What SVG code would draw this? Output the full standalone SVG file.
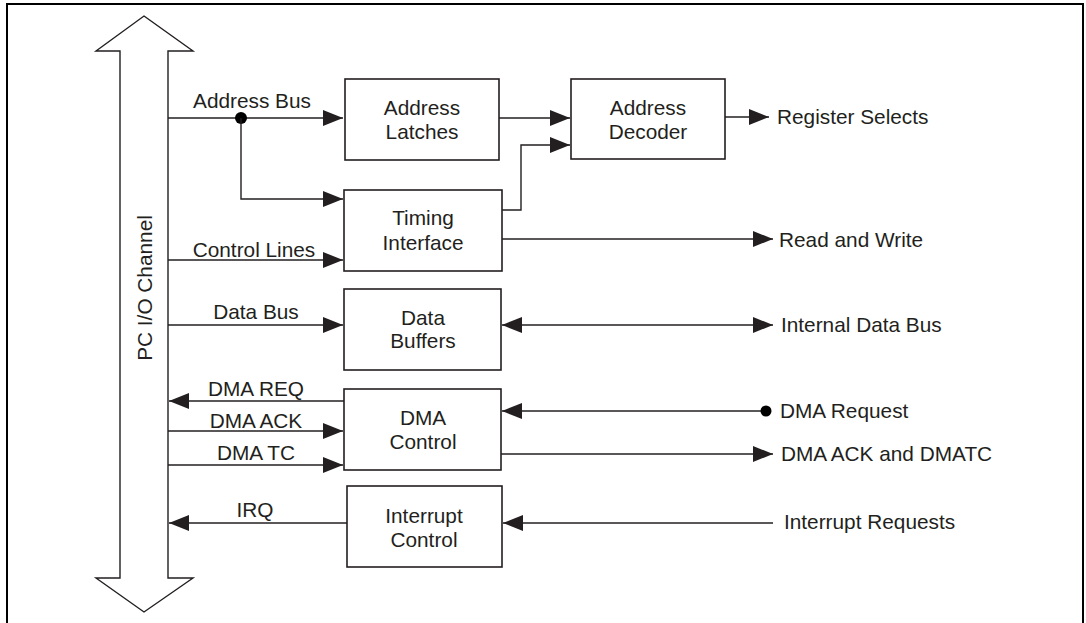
<svg xmlns="http://www.w3.org/2000/svg" width="1086" height="623" viewBox="0 0 1086 623">
<style>
text{font-family:"Liberation Sans",Arial,sans-serif;font-size:20.8px;fill:#231f20}
.box{fill:#fff;stroke:#231f20;stroke-width:1.6}
.ln{fill:none;stroke:#231f20;stroke-width:1.4}
.c{text-anchor:middle}
</style>
<defs>
<marker id="ah" markerUnits="userSpaceOnUse" markerWidth="22" markerHeight="18" refX="20" refY="8" orient="auto-start-reverse" viewBox="0 0 22 18">
<path d="M0,0 L20,8 L0,16 Z" fill="#231f20"/>
</marker>
</defs>
<rect x="7" y="4" width="1076" height="640" fill="none" stroke="#000" stroke-width="2"/>
<g id="pc-channel">
<polygon points="144,16 193,51 168,51 168,578 193,578 144,612 96,578 120,578 120,51 96,51" fill="#fff" stroke="#231f20" stroke-width="1.4"/>
<text transform="translate(152,288) rotate(-90)" class="c">PC I/O Channel</text>
</g>
<g id="connectors">
<path class="ln" d="M168,118 H343" marker-end="url(#ah)"/>
<circle cx="241" cy="118" r="6" fill="#000"/>
<path class="ln" d="M241,118 V199 H343" marker-end="url(#ah)"/>
<path class="ln" d="M168,260 H343" marker-end="url(#ah)"/>
<path class="ln" d="M168,325 H343" marker-end="url(#ah)"/>
<path class="ln" d="M344,401 H169" marker-end="url(#ah)"/>
<path class="ln" d="M168,431 H343" marker-end="url(#ah)"/>
<path class="ln" d="M168,465 H343" marker-end="url(#ah)"/>
<path class="ln" d="M347,523 H169" marker-end="url(#ah)"/>
<path class="ln" d="M499,118 H570" marker-end="url(#ah)"/>
<path class="ln" d="M502,210 H521 V145 H570" marker-end="url(#ah)"/>
<path class="ln" d="M725,117 H769" marker-end="url(#ah)"/>
<path class="ln" d="M502,239 H773" marker-end="url(#ah)"/>
<path class="ln" d="M502,325 H773" marker-start="url(#ah)" marker-end="url(#ah)"/>
<path class="ln" d="M766,411 H502" marker-end="url(#ah)"/>
<circle cx="766" cy="411" r="5.5" fill="#000"/>
<path class="ln" d="M501,454 H773" marker-end="url(#ah)"/>
<path class="ln" d="M773,523 H503" marker-end="url(#ah)"/>
<text x="252" y="108" class="c">Address Bus</text>
<text x="254" y="257" class="c">Control Lines</text>
<text x="256" y="319" class="c">Data Bus</text>
<text x="256" y="396" class="c">DMA REQ</text>
<text x="256" y="428" class="c">DMA ACK</text>
<text x="256" y="460" class="c">DMA TC</text>
<text x="255" y="517" class="c">IRQ</text>
<text x="777" y="124">Register Selects</text>
<text x="779" y="247">Read and Write</text>
<text x="781" y="332">Internal Data Bus</text>
<text x="780" y="418">DMA Request</text>
<text x="781" y="461">DMA ACK and DMATC</text>
<text x="784" y="529">Interrupt Requests</text>
</g>
<g id="address-latches">
<rect class="box" x="345" y="79" width="154" height="81"/>
<text x="422" y="115" class="c">Address</text>
<text x="422" y="139" class="c">Latches</text>
</g>
<g id="address-decoder">
<rect class="box" x="571" y="79" width="154" height="80"/>
<text x="648" y="115" class="c">Address</text>
<text x="648" y="139" class="c">Decoder</text>
</g>
<g id="timing-interface">
<rect class="box" x="344" y="190" width="158" height="81"/>
<text x="423" y="225" class="c">Timing</text>
<text x="423" y="250" class="c">Interface</text>
</g>
<g id="data-buffers">
<rect class="box" x="344" y="289" width="157" height="81"/>
<text x="423" y="325" class="c">Data</text>
<text x="423" y="348" class="c">Buffers</text>
</g>
<g id="dma-control">
<rect class="box" x="344" y="389" width="157" height="81"/>
<text x="423" y="425" class="c">DMA</text>
<text x="423" y="449" class="c">Control</text>
</g>
<g id="interrupt-control">
<rect class="box" x="347" y="486" width="155" height="81"/>
<text x="424" y="523" class="c">Interrupt</text>
<text x="424" y="547" class="c">Control</text>
</g>
</svg>
